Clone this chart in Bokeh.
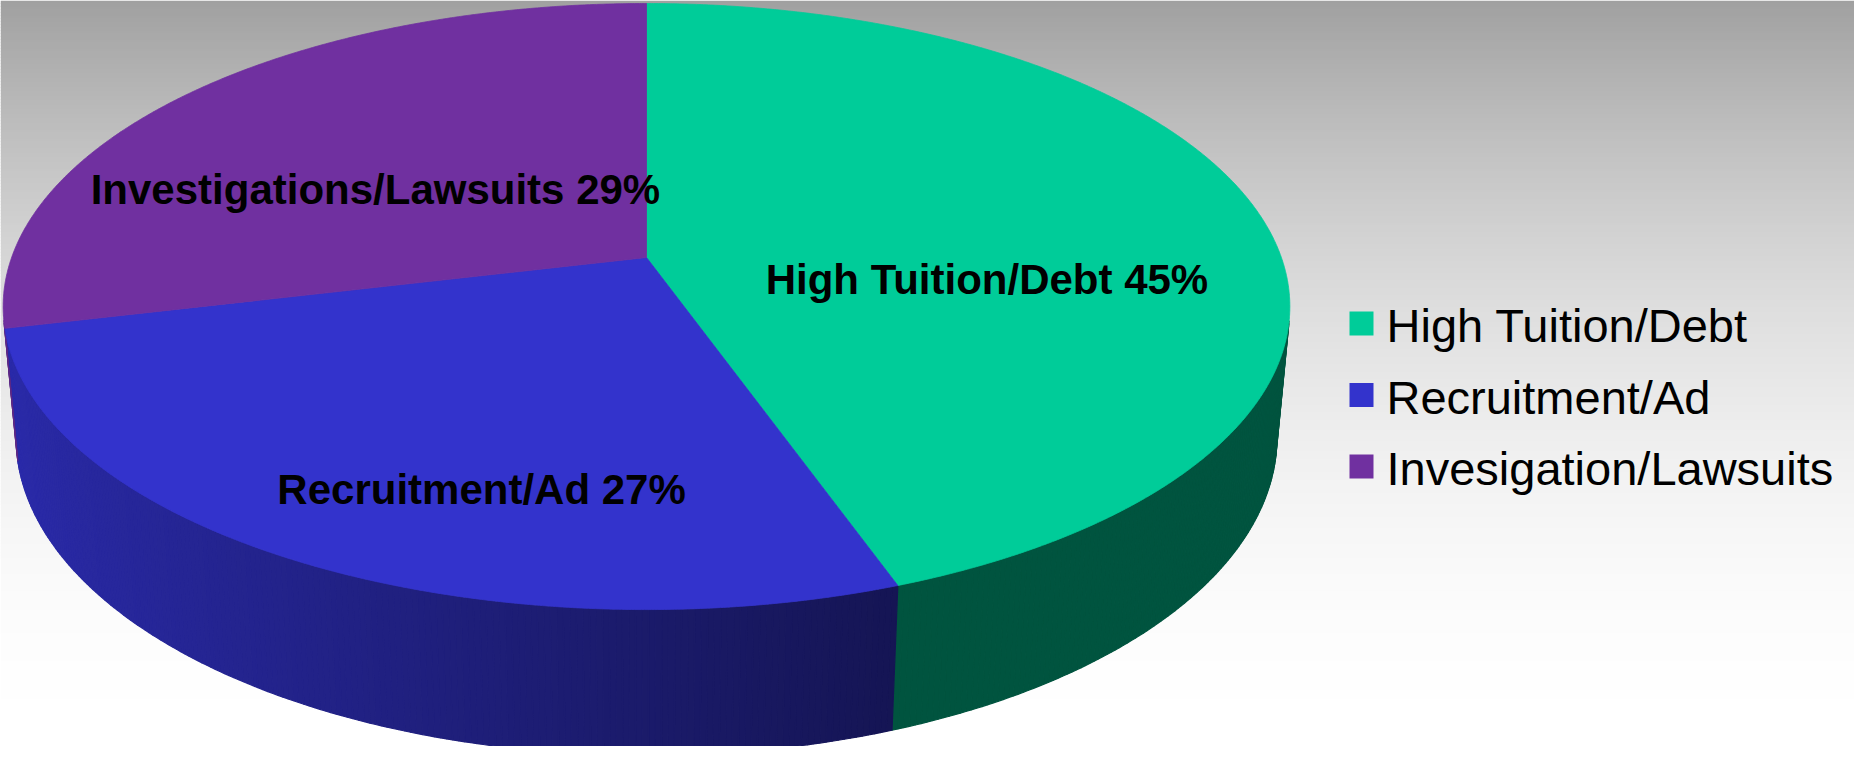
import numpy as np
from bokeh.plotting import figure
from bokeh.models import Range1d
from bokeh.embed import file_html
from bokeh.resources import INLINE
from bokeh.core.properties import value

# ---------------- data ----------------
categories = ["High Tuition/Debt", "Recruitment/Ad", "Investigations/Lawsuits"]
legend_labels = ["High Tuition/Debt", "Recruitment/Ad", "Invesigation/Lawsuits"]
shares = [45, 27, 29]
colors = ["#00CC99", "#3333CC", "#7030A0"]

# ---------------- layout / camera ----------------
W, H = 1854, 746
OFF = 8
ELEV = np.radians(27.7)
CE, SE = np.cos(ELEV), np.sin(ELEV)
DIST = 5.472
FOC = 3474.0
CX, CY = 654.0, 265.0
THICK = 0.235


def project(theta, r=1.0, z=0.0):
    theta = np.asarray(theta, dtype=float)
    x = r * np.sin(theta)
    y = r * np.cos(theta)
    depth = CE * y + DIST - SE * z
    yy = SE * y + CE * z
    return CX + FOC * x / depth, CY - FOC * yy / depth


def hex_rgb(h):
    h = h.lstrip("#")
    return tuple(int(h[i:i + 2], 16) for i in (0, 2, 4))


def rgb_hex(c):
    return "#%02x%02x%02x" % tuple(int(max(0, min(255, round(v)))) for v in c)


p = figure(width=W, height=H,
           x_range=Range1d(OFF, OFF + W), y_range=Range1d(OFF + H, OFF),
           output_backend="svg", toolbar_location=None, min_border=0,
           x_axis_location=None, y_axis_location=None)
p.xgrid.visible = False
p.ygrid.visible = False
p.outline_line_color = None
p.background_fill_color = "#ffffff"
p.border_fill_color = "#ffffff"

# ---------------- background gradient ----------------
step = 3
band_top = np.arange(OFF, OFF + H, step)
band_bot = band_top + step
mid = (band_top + band_bot) / 2.0
gray = 255 - 97 * (1 - mid / 762.0) ** 2
bg_colors = [rgb_hex((g, g, g)) for g in gray]
p.quad(left=OFF, right=OFF + W, top=band_top, bottom=band_bot + 0.6,
       fill_color=bg_colors, line_color=None)

# ---------------- slice angles ----------------
total = float(sum(shares))
fracs = [s / total for s in shares]
starts = np.cumsum([0.0] + fracs[:-1]) * 2 * np.pi
ends = np.cumsum(fracs) * 2 * np.pi


def shade(theta):
    t = (-np.sin(theta) + 0.342) / 1.312
    t = np.clip(t, 0.0, 1.0)
    return 0.41 + 0.42 * t


# ---------------- side walls ----------------
side_xs, side_ys, side_cols = [], [], []
dstep = np.radians(0.5)
for a0, a1, col in zip(starts, ends, colors):
    base = hex_rgb(col)
    n = max(2, int(np.ceil((a1 - a0) / dstep)))
    th = np.linspace(a0, a1, n + 1)
    for i in range(n):
        tm = 0.5 * (th[i] + th[i + 1])
        if -DIST * CE * np.cos(tm) - 1 <= 0:
            continue
        tx, ty = project([th[i], th[i + 1]], 1.0, 0.0)
        bx, by = project([th[i + 1], th[i]], 1.0, -THICK)
        side_xs.append([tx[0], tx[1], bx[0], bx[1]])
        side_ys.append([ty[0], ty[1], by[0], by[1]])
        f = shade(tm)
        side_cols.append(rgb_hex(tuple(v * f for v in base)))
p.patches(xs=side_xs, ys=side_ys, fill_color=side_cols, line_color=side_cols,
          line_width=1.2)

# ---------------- top faces ----------------
top_xs, top_ys = [], []
for a0, a1 in zip(starts, ends):
    n = max(4, int(np.ceil((a1 - a0) / np.radians(0.25))))
    th = np.linspace(a0, a1, n + 1)
    ex, ey = project(th, 1.0, 0.0)
    cx0, cy0 = project([0.0], 0.0, 0.0)
    top_xs.append([cx0[0]] + list(ex))
    top_ys.append([cy0[0]] + list(ey))
p.patches(xs=top_xs, ys=top_ys, fill_color=colors, line_color=colors, line_width=0.8)

# ---------------- data labels ----------------
rim_x, rim_y = project(np.linspace(0, 2 * np.pi, 721), 1.0, 0.0)
ecx, ecy = (rim_x.min() + rim_x.max()) / 2, (rim_y.min() + rim_y.max()) / 2
erx, ery = (rim_x.max() - rim_x.min()) / 2, (rim_y.max() - rim_y.min()) / 2
mids = (starts + ends) / 2
lab_x = ecx + 0.537 * erx * np.sin(mids)
lab_y = ecy - 0.66 * ery * np.cos(mids) + 7
lab_text = ["%s %d%%" % (c, s) for c, s in zip(categories, shares)]
p.text(x=lab_x, y=lab_y, text=lab_text, text_font=value("Liberation Sans"),
       text_font_size="42px", text_font_style="bold", text_color="#000000",
       text_align="center", text_baseline="middle")

# ---------------- legend ----------------
leg_y = 331 + 71.5 * np.arange(len(legend_labels))
p.rect(x=1369, y=leg_y, width=24, height=24, fill_color=colors, line_color=None)
p.text(x=1394, y=leg_y + 2, text=legend_labels, text_font=value("Liberation Sans"),
       text_font_size="47px", text_color="#000000", text_align="left",
       text_baseline="middle")

open("out.html", "w").write(file_html(p, INLINE))
